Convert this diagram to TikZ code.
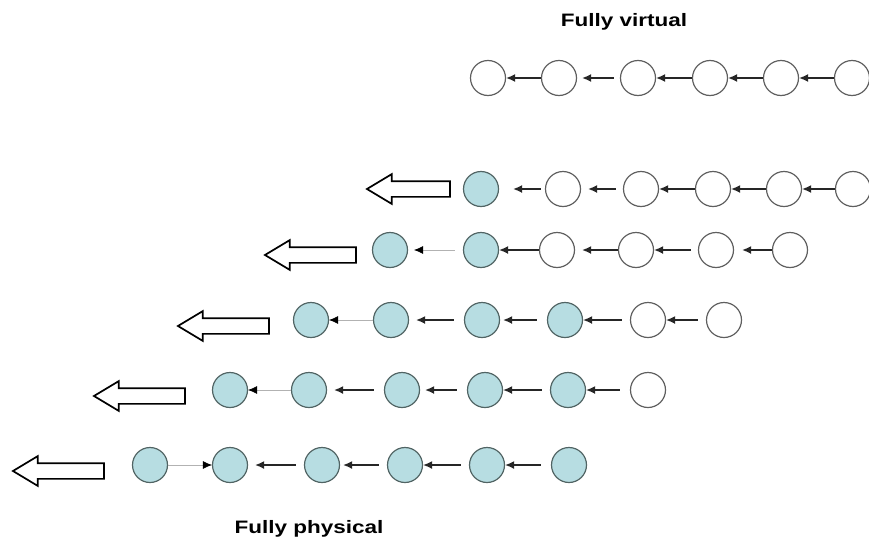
\documentclass[tikz,border=0pt]{standalone}
\usepackage{fontspec}
\setmainfont{Liberation Sans}
\usetikzlibrary{arrows.meta,shapes.arrows}

\definecolor{physfill}{RGB}{183,221,226}
\definecolor{ringgray}{RGB}{95,95,95}

\begin{document}
\begin{tikzpicture}[x=1pt,y=-1pt,>={Latex[length=9pt,width=8pt]}]
  \tikzstyle{vnode}=[circle,draw=ringgray,line width=1.2pt,minimum size=35pt,inner sep=0pt]
  \tikzstyle{pnode}=[vnode,fill=physfill,draw=ringgray!85!teal]
  \tikzstyle{link}=[->,line width=1.4pt,black!85]
  \tikzstyle{faint}=[-{Latex[length=9pt,width=8pt,black]},line width=0.6pt,gray!60]
  \tikzstyle{migrate}=[single arrow,draw,line width=1.7pt,minimum height=91pt,inner xsep=0pt,inner ysep=7pt,single arrow head extend=7pt,single arrow tip angle=62,shape border rotate=180]
  \tikzstyle{caption}=[font=\bfseries\fontsize{18}{20}\selectfont,anchor=base,inner sep=0pt]
  \useasboundingbox (0,0) rectangle (869,546);

  \node[caption] (virt) at (624,26) {\scalebox{1.25}[1]{Fully virtual}};
  \node[caption] (phys) at (309,533) {\scalebox{1.25}[1]{Fully physical}};

  % row 0
  \foreach \i/\x in {1/488,2/559,3/638,4/710,5/781,6/852}
    \node[vnode] (r0c\i) at (\x,78) {};
  \foreach \a/\b/\t/\s in {1/2/0/0,2/3/5/6,3/4/0/0,4/5/0/0,5/6/0/0}
    \draw[link,shorten >=\t pt,shorten <=\s pt] (r0c\b) -- (r0c\a);

  % row 1
  \node[migrate,minimum height=83pt] (shift1) at (415,189) {};
  \foreach \i/\x/\k in {1/481/pnode,2/563/vnode,3/641/vnode,4/713/vnode,5/784/vnode,6/853/vnode}
    \node[\k] (r1c\i) at (\x,189) {};
  \foreach \a/\b/\t/\s in {1/2/14/4,2/3/7/7,3/4/0/0,4/5/0/0,5/6/0/0}
    \draw[link,shorten >=\t pt,shorten <=\s pt] (r1c\b) -- (r1c\a);

  % row 2
  \node[migrate] (shift2) at (317,255) {};
  \foreach \i/\x/\k in {1/390/pnode,2/481/pnode,3/557/vnode,4/636/vnode,5/716/vnode,6/790/vnode}
    \node[\k] (r2c\i) at (\x,250) {};
  \foreach \a/\b/\t/\s/\k in {1/2/6/8/faint,2/3/0/0/link,3/4/7/0/link,4/5/0/7/link,5/6/8/0/link}
    \draw[\k,shorten >=\t pt,shorten <=\s pt] (r2c\b) -- (r2c\a);

  % row 3
  \node[migrate] (shift3) at (230,326) {};
  \foreach \i/\x/\k in {1/311/pnode,2/391/pnode,3/482/pnode,4/565/pnode,5/648/vnode,6/724/vnode}
    \node[\k] (r3c\i) at (\x,320) {};
  \foreach \a/\b/\t/\s/\k in {1/2/0/0/faint,2/3/7/10/link,3/4/3/10/link,4/5/0/8/link,5/6/0/8/link}
    \draw[\k,shorten >=\t pt,shorten <=\s pt] (r3c\b) -- (r3c\a);

  % row 4
  \node[migrate] (shift4) at (146,396) {};
  \foreach \i/\x/\k in {1/230/pnode,2/309/pnode,3/402/pnode,4/485/pnode,5/568/pnode,6/648/vnode}
    \node[\k] (r4c\i) at (\x,390) {};
  \foreach \a/\b/\t/\s/\k in {1/2/0/0/faint,2/3/7/10/link,3/4/5/10/link,4/5/0/8/link,5/6/0/10/link}
    \draw[\k,shorten >=\t pt,shorten <=\s pt] (r4c\b) -- (r4c\a);

  % row 5
  \node[migrate] (shift5) at (65,471) {};
  \foreach \i/\x in {1/150,2/230,3/322,4/405,5/487,6/569}
    \node[pnode] (r5c\i) at (\x,465) {};
  \draw[faint] (r5c1) -- (r5c2);
  \foreach \a/\b/\t/\s in {2/3/7/8,3/4/3/8,4/5/0/8,5/6/0/10}
    \draw[link,shorten >=\t pt,shorten <=\s pt] (r5c\b) -- (r5c\a);
\end{tikzpicture}
\end{document}
